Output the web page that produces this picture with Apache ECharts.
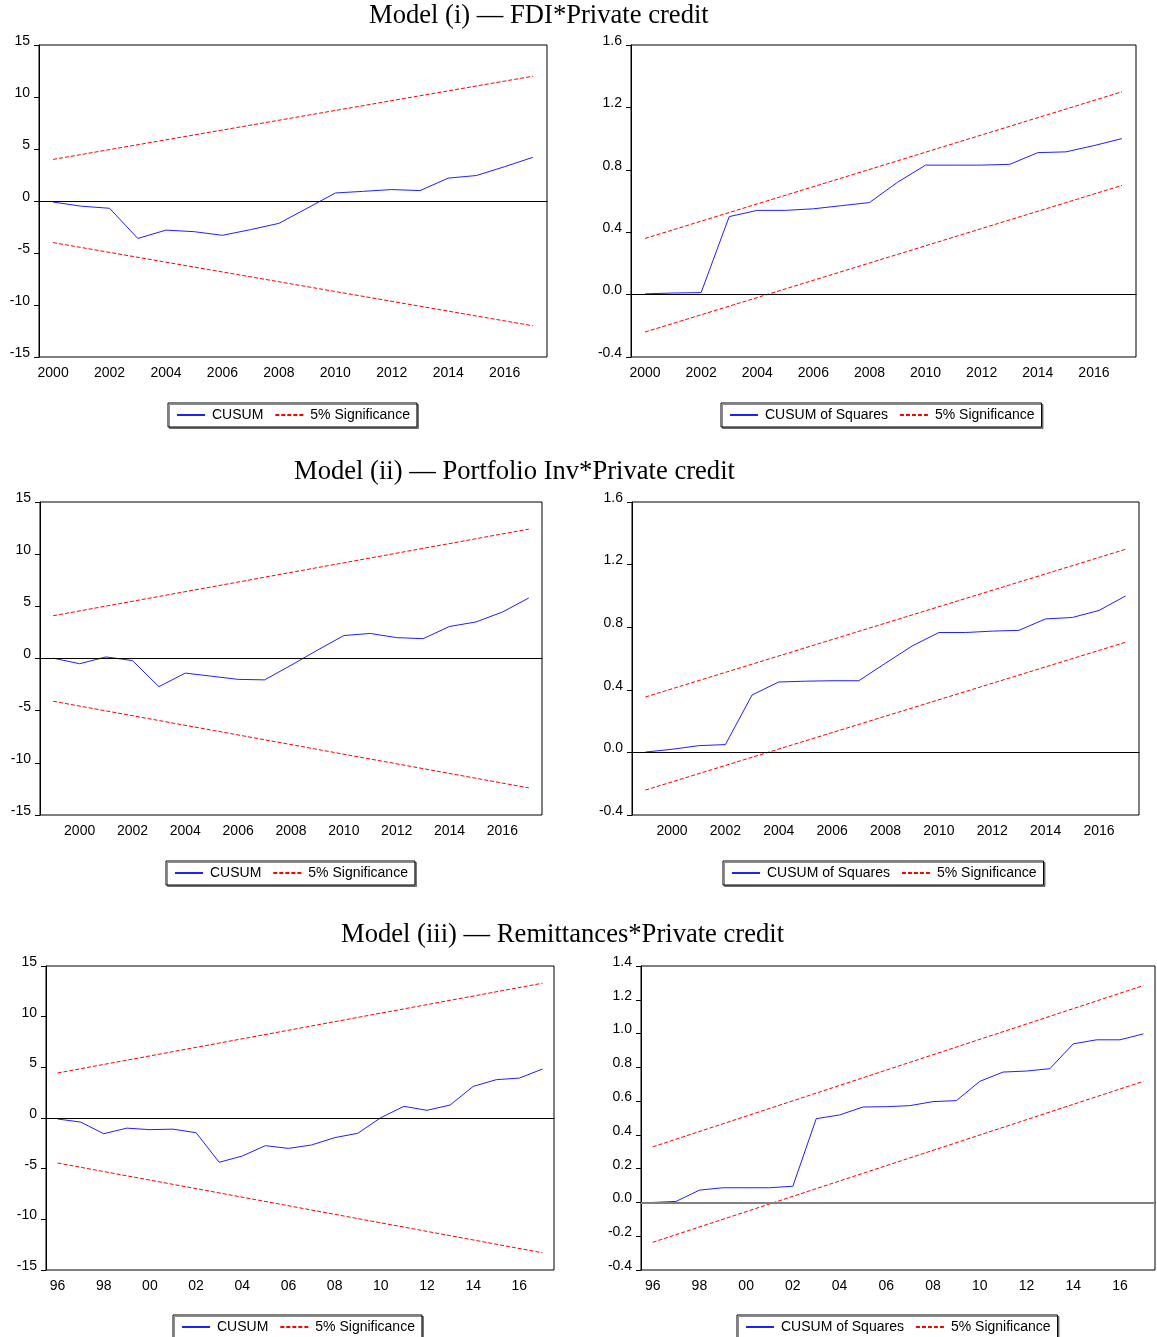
<!DOCTYPE html>
<html>
<head>
<meta charset="utf-8">
<title>CUSUM stability tests</title>
<script src="https://cdn.jsdelivr.net/npm/echarts@6/dist/echarts.min.js"></script>
<style>
  html, body { margin: 0; padding: 0; background: #fff; }
  #chart { width: 1157px; height: 1337px; }
</style>
</head>
<body>
<div id="chart"></div>
<script>
// categories
const years1 = ['2000','2001','2002','2003','2004','2005','2006','2007','2008','2009','2010','2011','2012','2013','2014','2015','2016','2017'];
const years2 = ['1999','2000','2001','2002','2003','2004','2005','2006','2007','2008','2009','2010','2011','2012','2013','2014','2015','2016','2017'];
const years3 = ['96','97','98','99','00','01','02','03','04','05','06','07','08','09','10','11','12','13','14','15','16','17'];

// Model (i)
const cusum1 = [-0.1, -0.5, -0.7, -3.6, -2.8, -2.95, -3.3, -2.75, -2.15, -0.7, 0.77, 0.93, 1.1, 1.0, 2.2, 2.45, 3.3, 4.2];
const sigUp1 = [4.0, 12.0];      // first / last category
const sigLo1 = [-4.0, -12.0];
const cusumSq1 = [0.005, 0.01, 0.013, 0.50, 0.54, 0.54, 0.55, 0.57, 0.59, 0.72, 0.83, 0.83, 0.83, 0.835, 0.91, 0.915, 0.955, 1.0];
const sqUp1 = [0.36, 1.30];
const sqLo1 = [-0.24, 0.70];

// Model (ii)
const cusum2 = [0.03, -0.5, 0.15, -0.2, -2.7, -1.4, -1.7, -2.0, -2.05, -0.65, 0.8, 2.2, 2.4, 2.0, 1.9, 3.07, 3.5, 4.45, 5.8];
const sigUp2 = [4.1, 12.4];
const sigLo2 = [-4.1, -12.4];
const cusumSq2 = [0.002, 0.02, 0.043, 0.05, 0.367, 0.45, 0.455, 0.458, 0.458, 0.57, 0.68, 0.766, 0.766, 0.775, 0.78, 0.853, 0.862, 0.907, 1.0];
const sqUp2 = [0.354, 1.298];
const sqLo2 = [-0.241, 0.704];

// Model (iii)
const cusum3 = [-0.1, -0.4, -1.55, -1.0, -1.15, -1.1, -1.45, -4.37, -3.75, -2.73, -3.0, -2.66, -1.94, -1.51, 0.03, 1.15, 0.76, 1.28, 3.12, 3.78, 3.94, 4.83];
const sigUp3 = [4.44, 13.3];
const sigLo3 = [-4.44, -13.3];
const cusumSq3 = [0.0, 0.006, 0.073, 0.087, 0.087, 0.087, 0.096, 0.496, 0.518, 0.565, 0.567, 0.573, 0.597, 0.603, 0.717, 0.772, 0.778, 0.792, 0.939, 0.963, 0.963, 0.998];
const sqUp3 = [0.329, 1.284];
const sqLo3 = [-0.236, 0.717];

const titles = ['Model (i) \u2014 FDI*Private credit', 'Model (ii) \u2014 Portfolio Inv*Private credit', 'Model (iii) \u2014 Remittances*Private credit'];

const SANS = 'Arial, "Liberation Sans", sans-serif';
const SERIF = '"Times New Roman", "Liberation Serif", serif';

const evenIdx = (i) => i % 2 === 0;
const oddIdx = (i) => i % 2 === 1;

const panels = [
  { grid: { left: 39, top: 45, width: 508, height: 312 }, cats: years1, vals: cusum1, up: sigUp1, lo: sigLo1,
    name: 'CUSUM', min: -15, max: 15, step: 5, dec: 0, lbl: evenIdx, legend: { left: 168, top: 403 }, zero: ['#000', 1] },
  { grid: { left: 631, top: 45, width: 505, height: 312 }, cats: years1, vals: cusumSq1, up: sqUp1, lo: sqLo1,
    name: 'CUSUM of Squares', min: -0.4, max: 1.6, step: 0.4, dec: 1, lbl: evenIdx, legend: { left: 721, top: 403 }, zero: ['#000', 1] },
  { grid: { left: 40, top: 502, width: 502, height: 313 }, cats: years2, vals: cusum2, up: sigUp2, lo: sigLo2,
    name: 'CUSUM', min: -15, max: 15, step: 5, dec: 0, lbl: oddIdx, legend: { left: 166, top: 861 }, zero: ['#000', 1] },
  { grid: { left: 632, top: 502, width: 507, height: 313 }, cats: years2, vals: cusumSq2, up: sqUp2, lo: sqLo2,
    name: 'CUSUM of Squares', min: -0.4, max: 1.6, step: 0.4, dec: 1, lbl: oddIdx, legend: { left: 723, top: 861 }, zero: ['#000', 1] },
  { grid: { left: 46, top: 966, width: 508, height: 304 }, cats: years3, vals: cusum3, up: sigUp3, lo: sigLo3,
    name: 'CUSUM', min: -15, max: 15, step: 5, dec: 0, lbl: evenIdx, legend: { left: 173, top: 1315 }, zero: ['#000', 1] },
  { grid: { left: 641, top: 966, width: 514, height: 304 }, cats: years3, vals: cusumSq3, up: sqUp3, lo: sqLo3,
    name: 'CUSUM of Squares', min: -0.4, max: 1.4, step: 0.2, dec: 1, lbl: evenIdx, legend: { left: 737, top: 1315 }, zero: ['#808080', 2] }
];

const option = {
  animation: false,
  backgroundColor: '#fff',
  title: [
    { text: titles[0], left: 369, top: 3 },
    { text: titles[1], left: 294, top: 459 },
    { text: titles[2], left: 341, top: 922 }
  ].map(t => Object.assign(t, { padding: 0, textStyle: { fontFamily: SERIF, fontSize: 26.6, fontWeight: 'normal', color: '#000' } })),
  grid: [], xAxis: [], yAxis: [], legend: [], series: []
};

panels.forEach((p, i) => {
  option.grid.push(Object.assign({ show: true, borderColor: '#000', borderWidth: 1, containLabel: false }, p.grid));
  option.xAxis.push({
    gridIndex: i, type: 'category', data: p.cats, boundaryGap: true,
    axisLine: { lineStyle: { color: '#000', width: 1 } },
    axisTick: { interval: 0, alignWithLabel: false, length: 5, lineStyle: { color: '#000' } },
    axisLabel: { interval: p.lbl, color: '#000', fontFamily: SANS, fontSize: 14, margin: 9 },
    splitLine: { show: false }
  });
  option.yAxis.push({
    gridIndex: i, type: 'value', min: p.min, max: p.max, interval: p.step,
    axisLine: { show: true, lineStyle: { color: '#000', width: 1 } },
    axisTick: { show: true, length: 5, lineStyle: { color: '#000' } },
    axisLabel: { color: '#000', fontFamily: SANS, fontSize: 14, margin: 9,
      formatter: (v) => Number(v).toFixed(p.dec), verticalAlign: 'bottom', lineHeight: 8 },
    splitLine: { show: false }
  });
  option.legend.push({
    data: [p.name, '5% Significance'], left: p.legend.left, top: p.legend.top,
    orient: 'horizontal', selectedMode: false,
    borderColor: '#000', borderWidth: 1, backgroundColor: '#fff',
    shadowColor: 'rgba(0,0,0,0.45)', shadowOffsetX: 1.5, shadowOffsetY: 1.5,
    padding: [5, 7, 5, 8], itemGap: 11, itemWidth: 28, itemHeight: 12,
    itemStyle: { opacity: 0, borderWidth: 0 },
    textStyle: { fontFamily: SANS, fontSize: 14, color: '#000', padding: [0, 0, 0, 2] }
  });
  const last = p.cats[p.cats.length - 1];
  option.series.push({
    name: p.name, type: 'line', xAxisIndex: i, yAxisIndex: i, data: p.vals,
    symbol: 'none', lineStyle: { color: '#2020ff', width: 1 }, itemStyle: { color: '#2020ff' },
    z: 3,
    markLine: { silent: true, symbol: 'none', label: { show: false },
      lineStyle: { color: p.zero[0], width: p.zero[1], type: 'solid' }, data: [{ yAxis: 0 }] }
  });
  [p.up, p.lo].forEach((b) => {
    option.series.push({
      name: '5% Significance', type: 'line', xAxisIndex: i, yAxisIndex: i,
      data: [[p.cats[0], b[0]], [last, b[1]]],
      symbol: 'none', lineStyle: { color: '#ff0000', width: 1, type: [4, 2] }, itemStyle: { color: '#ff0000' },
      z: 2
    });
  });
});

const chart = echarts.init(document.getElementById('chart'));
chart.setOption(option);
</script>
</body>
</html>
